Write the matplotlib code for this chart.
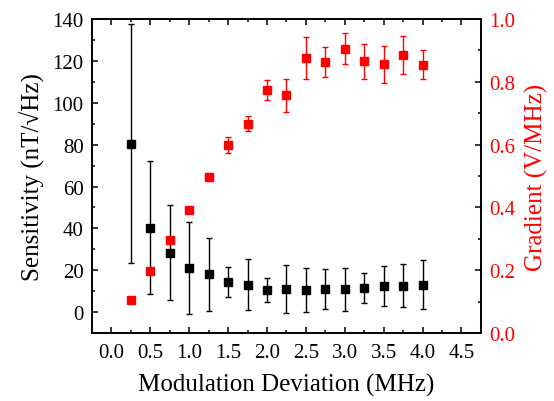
import numpy as np
import matplotlib as mpl
mpl.use('Agg')
from matplotlib import pyplot as plt
from matplotlib.ticker import MultipleLocator

# modulation deviation (MHz)
dev = [0.25, 0.5, 0.75, 1.0, 1.25, 1.5, 1.75, 2.0, 2.25, 2.5, 2.75, 3.0, 3.25, 3.5, 3.75, 4.0]

# sensitivity (nT/sqrt(Hz)) and its error
sens = [80.5, 40.4, 28.3, 21.2, 18.1, 14.3, 13.2, 10.6, 11.1, 10.8, 10.9, 10.9, 11.5, 12.3, 12.7, 13.2]
sens_err = [57.0, 31.6, 22.7, 22.1, 17.5, 7.1, 12.4, 5.7, 11.4, 10.5, 9.5, 10.2, 7.0, 9.6, 10.4, 11.6]

# gradient (V/MHz) and its error
grad = [0.105, 0.198, 0.296, 0.391, 0.496, 0.599, 0.667, 0.775, 0.757, 0.876,
        0.863, 0.906, 0.865, 0.856, 0.886, 0.855]
grad_err = [0.004, 0.005, 0.006, 0.007, 0.008, 0.024, 0.025, 0.032, 0.052, 0.066,
            0.047, 0.049, 0.056, 0.058, 0.061, 0.046]

plt.rcParams['font.family'] = ['Liberation Serif', 'DejaVu Serif']

fig = plt.figure(figsize=(5.54, 4.02), dpi=100)
ax1 = fig.add_axes([0.166, 0.169, 0.702, 0.781])
ax2 = ax1.twinx()

ax1.errorbar(dev, sens, yerr=sens_err, fmt='s', color='black', ms=5.2, capsize=2.5,
             elinewidth=1.0, capthick=1.0, zorder=3)
ax2.errorbar(dev, grad, yerr=grad_err, fmt='s', color='red', ms=5.2, capsize=2.5,
             elinewidth=1.0, capthick=1.0, zorder=3)

ax1.set_xlim(-0.25, 4.75)
ax1.set_ylim(-10, 140)
ax2.set_ylim(0, 1.0)

ax1.xaxis.set_minor_locator(MultipleLocator(0.25))
ax1.yaxis.set_minor_locator(MultipleLocator(10))
ax2.yaxis.set_major_locator(MultipleLocator(0.2))
ax2.yaxis.set_minor_locator(MultipleLocator(0.1))
ax1.set_xticks(np.arange(0, 4.51, 0.5))
ax1.set_yticks(np.arange(0, 141, 20))

ax1.tick_params(which='both', direction='in', top=True, right=False, labelsize=15, width=1.1)
ax1.tick_params(which='major', length=4.5)
ax1.tick_params(which='minor', length=2.5)
ax1.tick_params(axis='x', which='major', pad=7)
ax1.tick_params(axis='y', which='major', pad=6)
ax2.tick_params(which='both', direction='in', labelsize=15, labelcolor='red', width=1.1)
ax2.tick_params(which='major', length=4.5, pad=6)
ax2.tick_params(which='minor', length=2.5)

for ax in [ax1, ax2]:
    for s in ax.spines.values():
        s.set_linewidth(1.2)

ax1.set_xlabel('Modulation Deviation (MHz)', fontsize=18, labelpad=8)
ax1.set_ylabel('Sensitivity (nT/√Hz)', fontsize=18, labelpad=5)
ax2.set_ylabel('Gradient (V/MHz)', fontsize=18, color='red', labelpad=7)

fig.savefig('out.png', dpi=100)
